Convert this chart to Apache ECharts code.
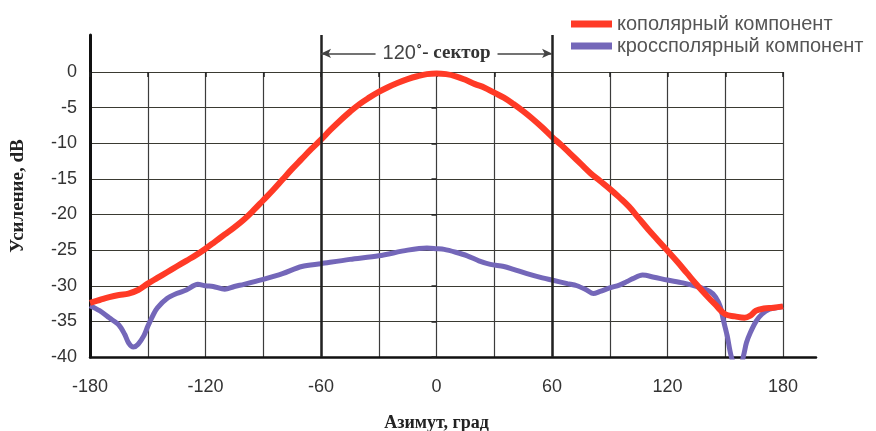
<!DOCTYPE html>
<html>
<head>
<meta charset="utf-8">
<script src="https://cdn.jsdelivr.net/npm/echarts@6/dist/echarts.min.js"></script>
<style>
  html, body { margin: 0; padding: 0; background: #fff; }
  #chart { width: 876px; height: 431px; }
</style>
</head>
<body>
<div id="chart"></div>
<script>
// кополярный компонент (азимут, град / усиление, dB)
const coAngles = [-180, -175, -170, -165, -160, -155, -150, -145, -140, -135, -130, -125, -120, -115, -110, -105, -100, -95, -90, -85, -80, -75, -70, -65, -60, -55, -50, -45, -40, -35, -30, -25, -20, -15, -10, -5, 0, 5, 10, 15, 20, 25, 30, 35, 40, 45, 50, 55, 60, 65, 70, 75, 80, 85, 90, 95, 100, 105, 110, 115, 120, 125, 130, 135, 140, 145, 150, 155, 160, 163, 166, 170, 175, 180];
const coGain = [-32.4, -32.0, -31.6, -31.3, -31.1, -30.6, -29.7, -28.9, -28.1, -27.3, -26.5, -25.7, -24.8, -23.8, -22.8, -21.8, -20.7, -19.4, -18.0, -16.6, -15.1, -13.6, -12.2, -10.8, -9.5, -8.1, -6.8, -5.6, -4.5, -3.6, -2.8, -2.1, -1.5, -1.0, -0.6, -0.3, -0.2, -0.3, -0.6, -1.1, -1.7, -2.2, -2.9, -3.6, -4.5, -5.5, -6.6, -7.8, -9.1, -10.3, -11.6, -12.9, -14.2, -15.3, -16.4, -17.6, -18.9, -20.5, -22.1, -23.6, -25.1, -26.6, -28.2, -29.8, -31.3, -32.7, -34.0, -34.3, -34.5, -34.2, -33.5, -33.2, -33.1, -32.9];

// кроссполярный компонент
const xAngles = [-180, -175, -170, -165, -162, -160, -157.5, -155, -152, -150, -147, -145, -140, -135, -130, -124, -120, -116, -110, -105, -100, -90, -80, -70, -60, -45, -30, -15, -5, 0, 4, 10, 16, 22, 28, 35, 40, 47, 55, 60, 68, 73, 78, 81.5, 85, 90, 95, 99, 102, 107, 113, 120, 128, 135, 142, 145, 147.5, 149, 151, 153, 155, 158, 159.5, 161, 163, 166, 169, 173, 180];
const xGain = [-32.8, -33.5, -34.5, -35.5, -36.8, -38.0, -38.6, -38.2, -37.0, -35.7, -34.0, -33.1, -31.8, -31.1, -30.6, -29.8, -30.0, -30.1, -30.5, -30.1, -29.8, -29.1, -28.3, -27.3, -26.9, -26.3, -25.8, -25.0, -24.7, -24.8, -24.9, -25.3, -25.8, -26.5, -27.0, -27.3, -27.7, -28.3, -28.9, -29.2, -29.7, -30.0, -30.6, -31.1, -30.8, -30.3, -29.9, -29.4, -29.0, -28.5, -28.8, -29.2, -29.6, -30.1, -30.8, -31.6, -33.0, -34.8, -37.0, -39.8, -41.0, -41.0, -39.8, -38.0, -36.6, -35.0, -34.0, -33.3, -32.9];

const seriesNames = ['кополярный компонент', 'кроссполярный компонент'];
const sectorBounds = [-60, 60];
const sectorLevel = 2.6;
const xTicks = [-180, 180, 30];   // min, max, step
const yTicks = [-40, 0, 5];
const xLabelStep = 60;

const chart = echarts.init(document.getElementById('chart'));

const toPairs = (a, v) => a.map((x, i) => [x, v[i]]);

const option = {
  backgroundColor: '#fff',
  animation: false,
  legend: {
    data: seriesNames,
    orient: 'vertical',
    left: 566,
    top: 9,
    itemWidth: 41,
    itemHeight: 7,
    itemGap: 2,
    icon: 'rect',
    textStyle: { fontFamily: 'Liberation Sans, Arial', fontSize: 20, color: '#555' }
  },
  grid: [
    { left: 90, right: 93, top: 72, bottom: 74, containLabel: false, outerBoundsMode: 'none' },
    { left: 90, right: 60, top: 35, bottom: 74, containLabel: false, outerBoundsMode: 'none' }
  ],
  xAxis: [
    {
      gridIndex: 0,
      type: 'value',
      min: xTicks[0], max: xTicks[1], interval: xTicks[2],
      axisLine: { show: false },
      axisTick: { show: true, length: 5, lineStyle: { color: '#222', width: 1.5 } },
      axisLabel: {
        margin: 21,
        fontFamily: 'Liberation Sans, Arial', fontSize: 18, color: '#333',
        formatter: v => (v % xLabelStep === 0 ? String(v) : '')
      },
      splitLine: { show: true, lineStyle: { color: '#3c3c3c', width: 1.2 } },
      name: 'Азимут, град',
      nameLocation: 'middle',
      nameGap: 57,
      nameTextStyle: { fontFamily: 'Liberation Serif, Times New Roman', fontWeight: 'bold', fontSize: 18, color: '#222' }
    },
    {
      gridIndex: 1,
      type: 'value',
      min: -180, max: 197.1,
      axisLine: { show: true, onZero: false, lineStyle: { color: '#111', width: 2.5 } },
      axisTick: { show: false },
      axisLabel: { show: false },
      splitLine: { show: false }
    }
  ],
  yAxis: [
    {
      gridIndex: 0,
      type: 'value',
      min: yTicks[0], max: yTicks[1], interval: yTicks[2],
      axisLine: { show: false },
      axisTick: { show: true, length: 5, lineStyle: { color: '#222', width: 1.5 } },
      axisLabel: { margin: 13, fontFamily: 'Liberation Sans, Arial', fontSize: 18, color: '#333' },
      splitLine: { show: true, lineStyle: { color: '#3a3a32', width: 1.2 } }
    },
    {
      gridIndex: 1,
      type: 'value',
      min: -40, max: 5.19,
      axisLine: { show: true, onZero: false, lineStyle: { color: '#111', width: 3 } },
      axisTick: { show: false },
      axisLabel: { show: false },
      splitLine: { show: false },
      name: 'Усиление, dB',
      nameLocation: 'middle',
      nameGap: 62,
      nameRotate: 90,
      nameTextStyle: { fontFamily: 'Liberation Serif, Times New Roman', fontWeight: 'bold', fontSize: 19, color: '#222' }
    }
  ],
  series: [
    {
      name: seriesNames[1],
      type: 'line',
      xAxisIndex: 0, yAxisIndex: 0,
      data: toPairs(xAngles, xGain),
      smooth: 0.3,
      showSymbol: false,
      clip: true,
      z: 3,
      itemStyle: { color: '#7467b9' },
      lineStyle: { color: '#7467b9', width: 5 }
    },
    {
      name: seriesNames[0],
      type: 'line',
      xAxisIndex: 0, yAxisIndex: 0,
      data: toPairs(coAngles, coGain),
      smooth: 0.4,
      showSymbol: false,
      clip: true,
      z: 4,
      itemStyle: { color: '#ff3a26' },
      lineStyle: { color: '#ff3a26', width: 6 }
    },
    // границы 120-градусного сектора и подпись
    {
      type: 'line',
      xAxisIndex: 1, yAxisIndex: 1,
      data: [],
      z: 5,
      markLine: {
        silent: true,
        animation: false,
        symbol: ['none', 'none'],
        label: { show: false },
        lineStyle: { color: '#222', width: 2.5, type: 'solid' },
        data: [
          { xAxis: sectorBounds[0] },
          { xAxis: sectorBounds[1] },
          [
            { coord: [sectorBounds[0], sectorLevel], symbol: 'arrow', symbolSize: [7, 10] },
            {
              coord: [sectorBounds[1], sectorLevel], symbol: 'arrow', symbolSize: [7, 10],
              lineStyle: { color: '#444', width: 1.5, type: 'solid' },
              label: {
                show: true,
                position: 'middle',
                distance: 0,
                verticalAlign: 'middle',
                backgroundColor: '#fff',
                padding: [0, 7, 0, 7],
                formatter: '{a|120}{b|˚- сектор}',
                rich: {
                  a: { fontFamily: 'Liberation Sans, Arial', fontSize: 20, color: '#444' },
                  b: { fontFamily: 'Liberation Serif, Times New Roman', fontWeight: 'bold', fontSize: 19, color: '#333' }
                }
              }
            }
          ]
        ]
      }
    }
  ]
};

chart.setOption(option);
</script>
</body>
</html>
